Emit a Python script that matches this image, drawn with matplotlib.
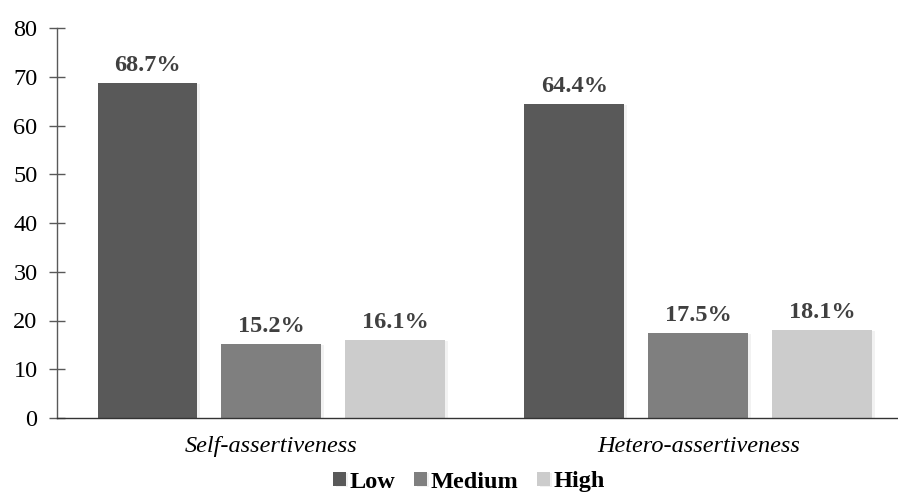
import numpy as np
import matplotlib.pyplot as plt
import matplotlib.patheffects as pe

plt.rcParams['font.family'] = ['Liberation Serif', 'DejaVu Serif']

groups = ["Self-assertiveness", "Hetero-assertiveness"]
levels = ["Low", "Medium", "High"]
low = [68.7, 64.4]
medium = [15.2, 17.5]
high = [16.1, 18.1]
colors = ["#595959", "#7f7f7f", "#cccccc"]

fig = plt.figure(figsize=(8.98, 4.99), dpi=100)
ax = fig.add_axes([57 / 898, 81 / 499, 841 / 898, 390 / 499])

x = np.arange(len(groups))
width = 0.234
step = 0.29

# faint drop shadow on the bars
shadow = [pe.SimplePatchShadow(offset=(2, -1), shadow_rgbFace="#000000", alpha=0.05),
          pe.Normal()]

for i, (name, vals, col) in enumerate(zip(levels, [low, medium, high], colors)):
    pos = x + (i - 1) * step
    bars = ax.bar(pos, vals, width, color=col, label=name, zorder=3)
    for b, v in zip(bars, vals):
        b.set_path_effects(shadow)
        ax.annotate(f"{v}%", (b.get_x() + b.get_width() / 2, v),
                    xytext=(0, 5), textcoords="offset points",
                    ha="center", va="bottom", fontsize=17.5,
                    fontweight="bold", color="#404040")

ax.set_xlim(-0.502, 1.468)
ax.set_ylim(0, 80)
ax.set_yticks(range(0, 81, 10))
ax.tick_params(axis="y", direction="inout", length=12, width=1,
               color="#595959", labelsize=17.5, pad=8)
ax.tick_params(axis="x", length=0, labelsize=17.5, pad=13)
ax.set_xticks(x)
ax.set_xticklabels(groups, style="italic")

for s in ["top", "right"]:
    ax.spines[s].set_visible(False)
ax.spines["left"].set_color("#595959")
ax.spines["bottom"].set_color("#333333")
for s in ["left", "bottom"]:
    ax.spines[s].set_linewidth(1)
    ax.spines[s].set_zorder(4)

fig.legend(loc="center", bbox_to_anchor=(469 / 898, 1 - 482 / 499), ncol=3,
           frameon=False, handlelength=0.5, handleheight=0.5,
           handletextpad=0.15, columnspacing=0.8,
           prop={"weight": "bold", "size": 17.5})

fig.savefig("out.png", dpi=100)
